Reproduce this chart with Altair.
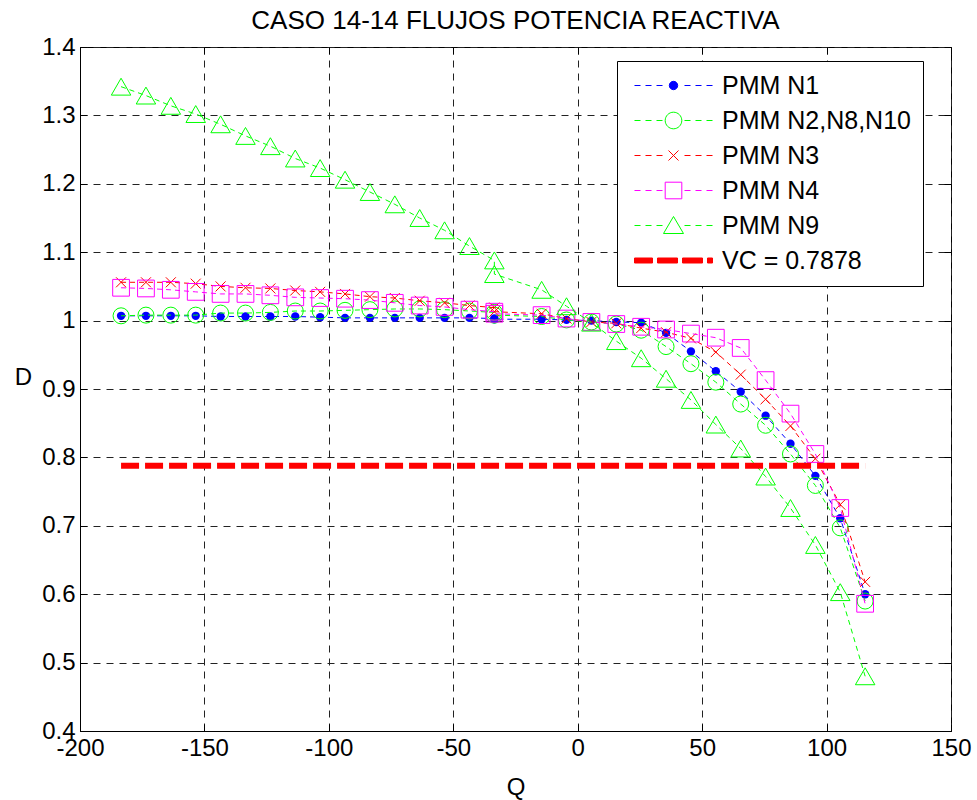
import altair as alt
import pandas as pd

# ---------------- data ----------------
q = [-183.5, -173.5, -163.5, -153.5, -143.5, -133.5, -123.5, -113.5, -103.5, -93.5,
     -83.5, -73.5, -63.5, -53.5, -43.5, -33.5, -33.5,
     -14.5, -4.5, 5.5, 15.5, 25.5, 35.5, 45.5, 55.5, 65.5, 75.5, 85.5, 95.5, 105.5, 115.5]

pmm_n1 = [1.007, 1.007, 1.007, 1.007, 1.006, 1.006, 1.006, 1.006, 1.005, 1.004,
          1.004, 1.004, 1.004, 1.004, 1.004, 1.003, 1.002,
          1.002, 1.001, 1.000, 0.998, 0.997, 0.982, 0.955, 0.926, 0.896, 0.861, 0.820, 0.773, 0.711, 0.600]

pmm_n2 = [1.007, 1.008, 1.008, 1.008, 1.011, 1.011, 1.012, 1.014, 1.014, 1.015,
          1.016, 1.017, 1.017, 1.016, 1.014, 1.012, 1.008,
          1.006, 1.001, 0.998, 0.995, 0.986, 0.962, 0.937, 0.910, 0.878, 0.847, 0.805, 0.759, 0.697, 0.590]

pmm_n3 = [1.056, 1.056, 1.056, 1.054, 1.050, 1.048, 1.047, 1.044, 1.042, 1.039,
          1.035, 1.033, 1.029, 1.026, 1.022, 1.019, 1.013,
          1.010, 1.003, 0.998, 0.996, 0.989, 0.983, 0.974, 0.954, 0.921, 0.885, 0.846, 0.798, 0.731, 0.618]

pmm_n4 = [1.048, 1.047, 1.045, 1.042, 1.039, 1.039, 1.037, 1.034, 1.033, 1.032,
          1.030, 1.026, 1.022, 1.020, 1.016, 1.013, 1.010,
          1.008, 1.003, 0.998, 0.995, 0.991, 0.987, 0.981, 0.975, 0.960, 0.913, 0.864, 0.805, 0.726, 0.586]

pmm_n9 = [1.342, 1.329, 1.314, 1.302, 1.287, 1.270, 1.255, 1.237, 1.223, 1.206,
          1.188, 1.170, 1.150, 1.132, 1.109, 1.088, 1.068,
          1.045, 1.021, 0.997, 0.970, 0.945, 0.915, 0.884, 0.848, 0.813, 0.772, 0.726, 0.672, 0.603, 0.480]

vc_value = 0.7878
vc_q = [-183.5, 115.5]

series_names = ["PMM N1", "PMM N2,N8,N10", "PMM N3", "PMM N4", "PMM N9", "VC = 0.7878"]
series_colors = ["#0000ff", "#00ff00", "#ff0000", "#ff00ff", "#00ff00", "#ff0000"]
series_fills = ["#0000ff", "transparent", "transparent", "transparent", "transparent", "#ff0000"]

x_ticks = [-200, -150, -100, -50, 0, 50, 100, 150]
y_ticks = [0.4, 0.5, 0.6, 0.7, 0.8, 0.9, 1.0, 1.1, 1.2, 1.3, 1.4]

# ---------------- tables ----------------
rows = []
for name, vals in zip(series_names[:5], [pmm_n1, pmm_n2, pmm_n3, pmm_n4, pmm_n9]):
    for i, (xv, yv) in enumerate(zip(q, vals)):
        rows.append({"series": name, "Q": xv, "D": yv, "idx": i})
df = pd.DataFrame(rows)
vc_df = pd.DataFrame({"series": series_names[5], "Q": vc_q, "D": [vc_value] * len(vc_q), "idx": list(range(len(vc_q)))})
leg_df = pd.DataFrame({"series": series_names})

FONT = "Liberation Sans"
W, H = 871, 684

x_scale = alt.Scale(domain=[-200, 150], nice=False, zero=False)
y_scale = alt.Scale(domain=[0.4, 1.4], nice=False, zero=False)

X = alt.X("Q:Q", scale=x_scale,
          axis=alt.Axis(values=x_ticks, labelExpr="toString(datum.value)", title="Q",
                        titleY=56, titleBaseline="middle"))
Y = alt.Y("D:Q", scale=y_scale,
          axis=alt.Axis(values=y_ticks, labelExpr="toString(datum.value)", title="D", titleAngle=0,
                        titleX=-57, titleY=330, titleAlign="center", titleBaseline="middle"))

base = alt.Chart(df).encode(x=X, y=Y, order="idx:Q")

marker_specs = {
    "PMM N1": dict(shape="circle", size=70, filled=True),
    "PMM N2,N8,N10": dict(shape="circle", size=256, filled=False),
    "PMM N3": dict(shape="M-1,-1L1,1M-1,1L1,-1", size=100, filled=False),
    "PMM N4": dict(shape="square", size=280, filled=False),
    "PMM N9": dict(shape="triangle-up", size=380, filled=False),
}

layers = []
for name, col in zip(series_names[:5], series_colors[:5]):
    sub = base.transform_filter(alt.datum.series == name)
    layers.append(sub.mark_line(color=col, strokeWidth=1, strokeDash=[5, 4]))
    spec = marker_specs[name]
    layers.append(sub.mark_point(color=col, strokeWidth=1, opacity=1, **spec))

vc_layer = alt.Chart(vc_df).mark_line(color="#ff0000", strokeWidth=6, strokeDash=[18, 6]).encode(
    x=X, y=Y, order="idx:Q")
layers.append(vc_layer)

# ---------- legend (custom symbols: dashed line + marker, centred at +3.2 units) ----------
dash = "M-0.7,0H-0.1M0.4,0H1.0M1.5,0H2.1M4.3,0H4.9M5.4,0H6.0M6.5,0H7.1"
legend_paths = [
    dash + "M3.62,0A0.42,0.42,0,1,1,2.78,0A0.42,0.42,0,1,1,3.62,0Z",
    dash + "M4.03,0A0.83,0.83,0,1,1,2.37,0A0.83,0.83,0,1,1,4.03,0Z",
    dash + "M2.7,-0.5L3.7,0.5M2.7,0.5L3.7,-0.5",
    dash + "M2.37,-0.83H4.03V0.83H2.37Z",
    dash + "M3.2,-0.9L4.2,0.8L2.2,0.8Z",
    "M-0.7,-0.25H1.1V0.25H-0.7ZM1.6,-0.25H3.6V0.25H1.6ZM4.1,-0.25H6.1V0.25H4.1ZM6.6,-0.25H7.1V0.25H6.6Z",
]

leg = alt.Legend(title=None, orient="none", legendX=537, legendY=14, padding=12,
                 fillColor="white", strokeColor="black", cornerRadius=0,
                 symbolSize=400, symbolStrokeWidth=1, symbolOpacity=1,
                 labelFont=FONT, labelFontSize=25, labelColor="black", labelLimit=0,
                 labelOffset=68, rowPadding=9)

legend_layer = alt.Chart(leg_df).mark_point(opacity=0, filled=False).encode(
    stroke=alt.Stroke("series:N", scale=alt.Scale(domain=series_names, range=series_colors), legend=leg),
    fill=alt.Fill("series:N", scale=alt.Scale(domain=series_names, range=series_fills), legend=leg),
    shape=alt.Shape("series:N", scale=alt.Scale(domain=series_names, range=legend_paths), legend=leg),
)
layers.append(legend_layer)

main = alt.layer(*layers)

# ---------- inward tick marks on all four sides (tick-only axes) ----------
def tick_axis(orient, values):
    return alt.Axis(orient=orient, offset=-(H if orient in ("top", "bottom") else W), values=values,
                    labels=False, domain=False, grid=False, ticks=True, tickSize=7,
                    tickColor="black", tickWidth=1, title=None)

t1 = alt.Chart(vc_df).mark_line(opacity=0).encode(
    x=alt.X("Q:Q", scale=x_scale, axis=tick_axis("top", x_ticks)),
    y=alt.Y("D:Q", scale=y_scale, axis=tick_axis("right", y_ticks)))
t2 = alt.Chart(vc_df).mark_line(opacity=0).encode(
    x=alt.X("Q:Q", scale=x_scale, axis=tick_axis("bottom", x_ticks)),
    y=alt.Y("D:Q", scale=y_scale, axis=tick_axis("left", y_ticks)))
ticks_layer = alt.layer(t1, t2)

chart = alt.layer(main, ticks_layer).resolve_scale(x="independent", y="independent").properties(
    width=W, height=H,
    background="white",
    autosize=alt.AutoSizeParams(type="none"),
    padding={"left": 80, "top": 47, "right": 26, "bottom": 69},
    title=alt.TitleParams("CASO 14-14 FLUJOS POTENCIA REACTIVA", font=FONT, fontSize=26,
                          fontWeight="normal", color="black", anchor="middle",
                          frame="group", baseline="alphabetic", offset=2, dy=22),
).configure_view(stroke="black", strokeWidth=1).configure_axis(
    domainColor="black", domainWidth=1,
    grid=True, gridColor="#222222", gridDash=[7, 6], gridWidth=1, gridOpacity=1,
    ticks=False, tickSize=0, labelPadding=5, labelFlush=False,
    labelFont=FONT, labelFontSize=24, labelColor="black",
    titleFont=FONT, titleFontSize=24, titleFontWeight="normal", titleColor="black",
)

chart.save("out.html", embed_options={"renderer": "svg", "actions": False})
